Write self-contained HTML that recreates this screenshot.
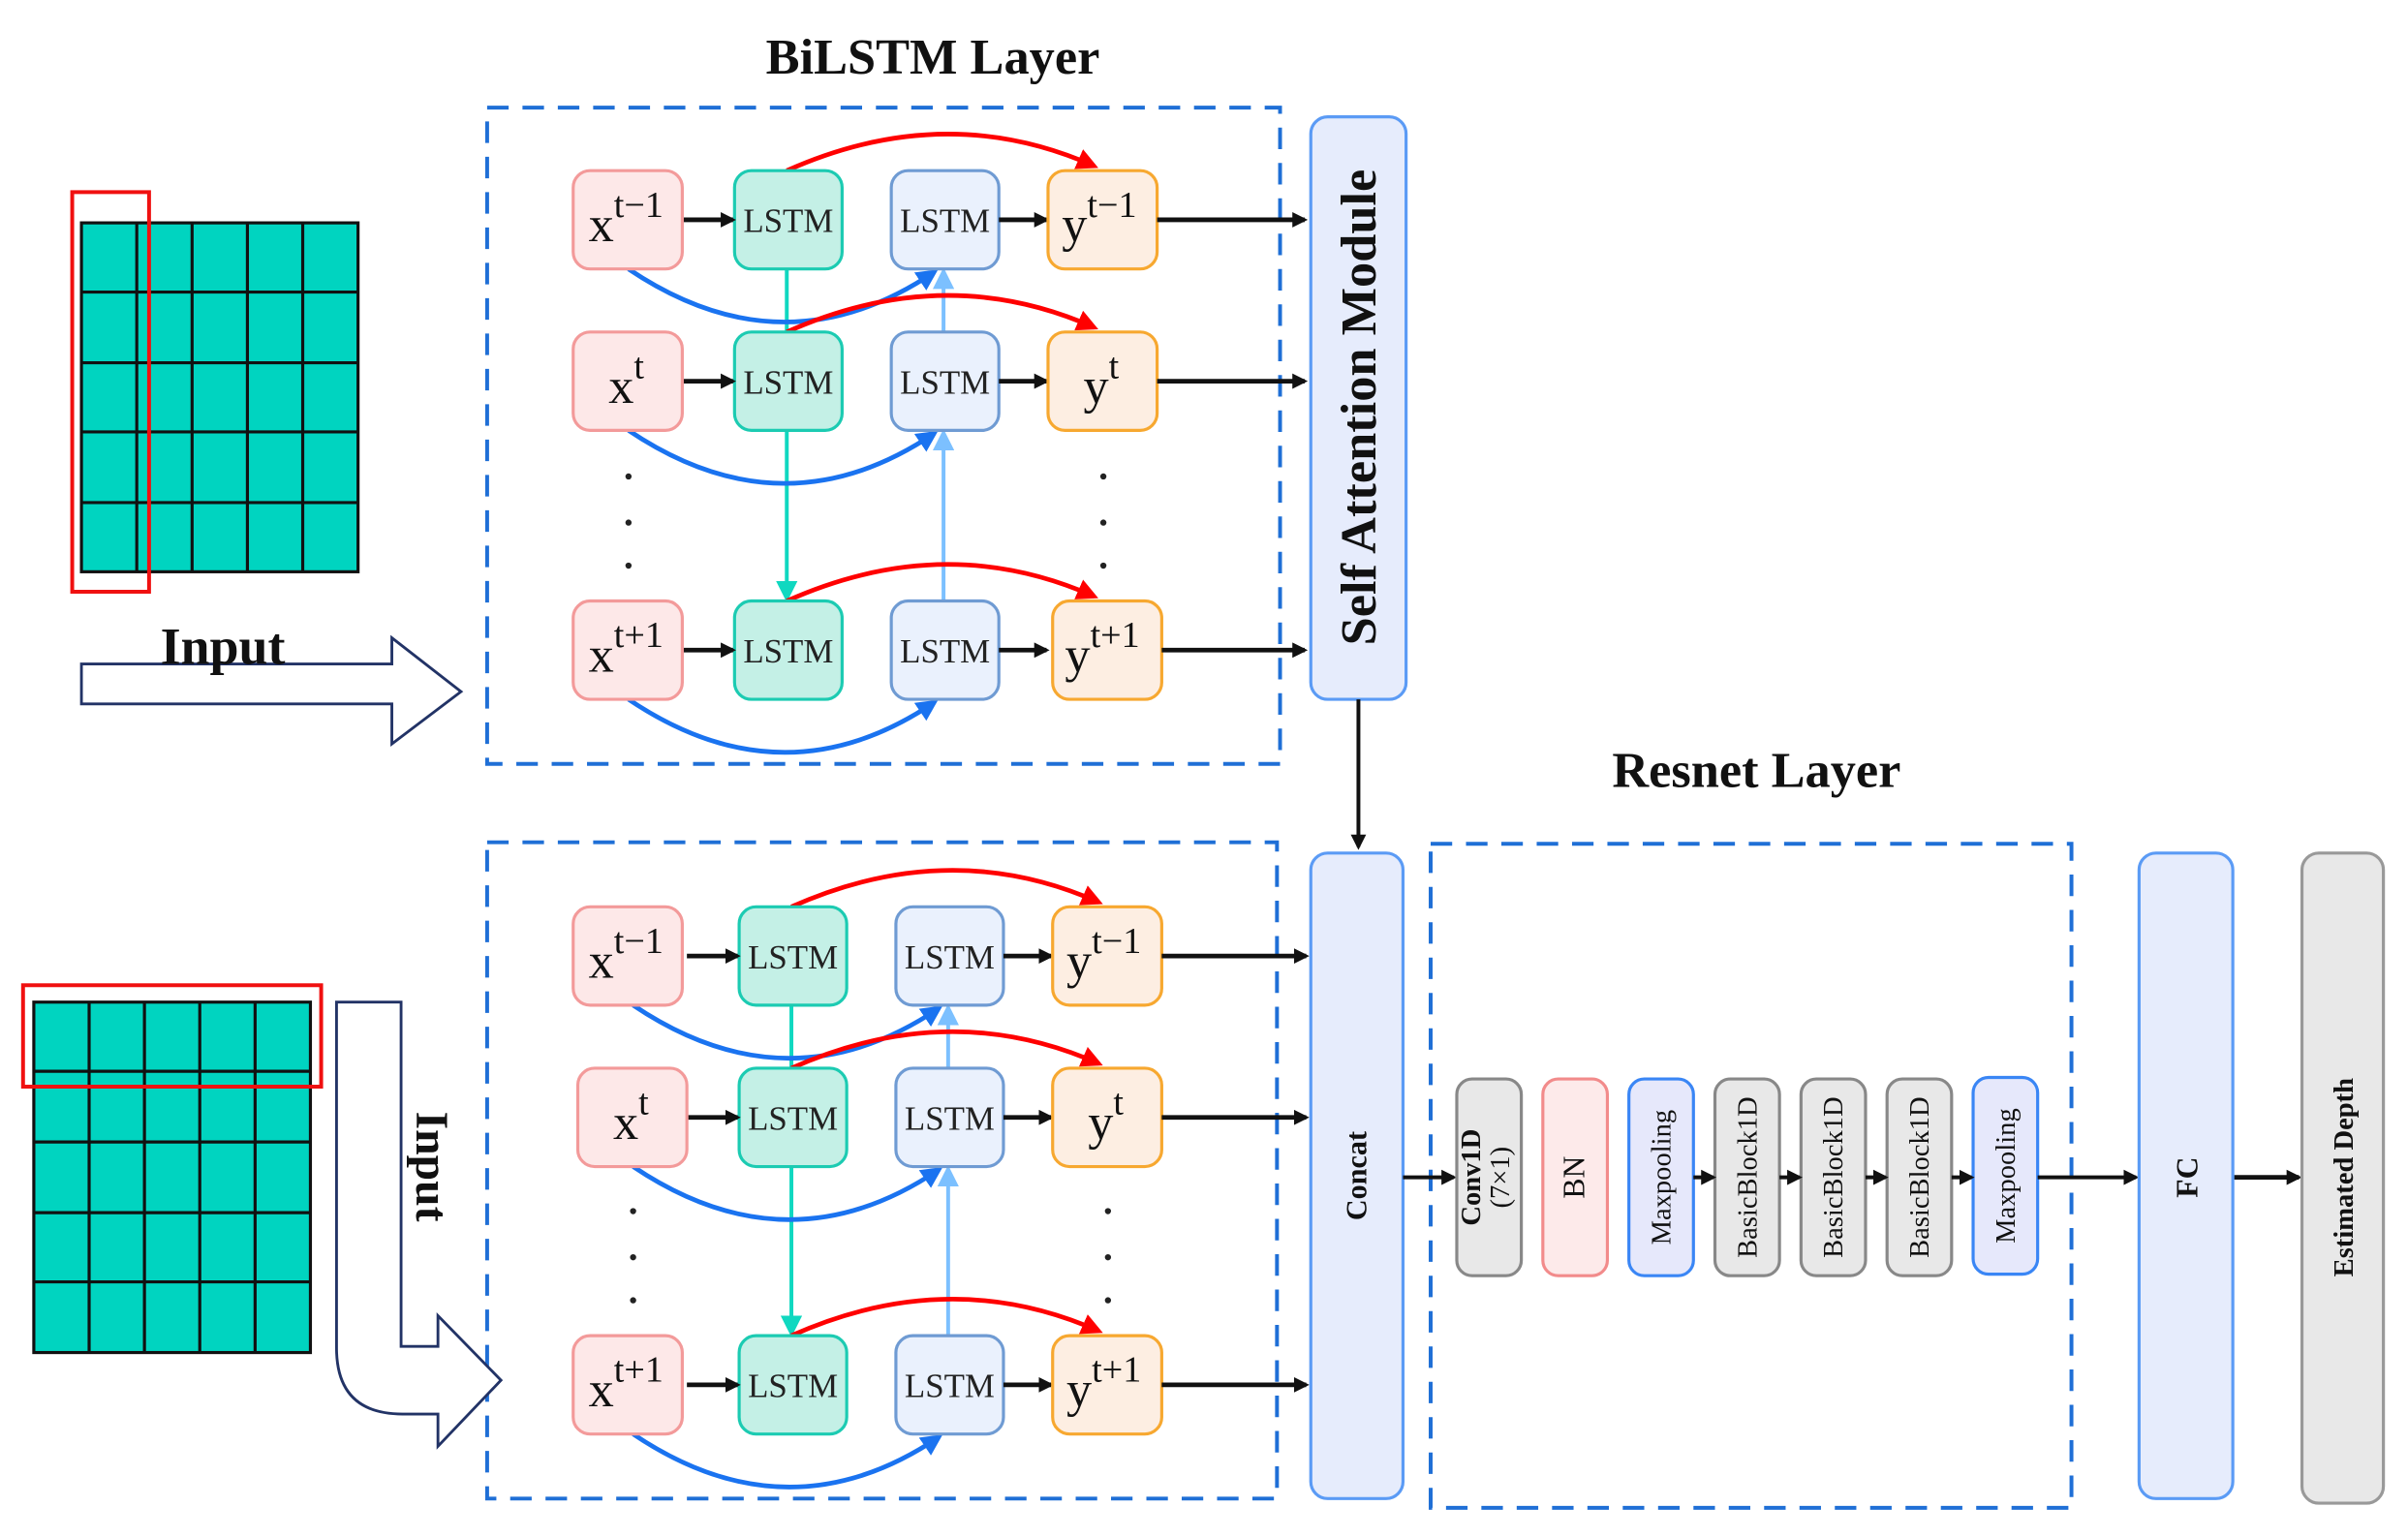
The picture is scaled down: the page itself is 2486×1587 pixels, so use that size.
<!DOCTYPE html>
<html><head><meta charset="utf-8"><style>
html,body{margin:0;padding:0;background:#fff;}
svg{display:block;}
text{font-family:"Liberation Serif",serif;}
</style></head><body>
<svg width="2486" height="1587" viewBox="0 0 1567 1000" preserveAspectRatio="none" xmlns="http://www.w3.org/2000/svg">
<defs>
<marker id="ab" markerWidth="10" markerHeight="10" refX="8" refY="5" orient="auto" markerUnits="userSpaceOnUse"><path d="M0,0 L10,5 L0,10 Z" fill="#111"/></marker>
<marker id="ar" markerWidth="14" markerHeight="14" refX="11" refY="7" orient="auto" markerUnits="userSpaceOnUse"><path d="M0,0 L14,7 L0,14 Z" fill="#f00"/></marker>
<marker id="abl" markerWidth="14" markerHeight="14" refX="11" refY="7" orient="auto" markerUnits="userSpaceOnUse"><path d="M0,0 L14,7 L0,14 Z" fill="#1a73f0"/></marker>
<marker id="at" markerWidth="14" markerHeight="14" refX="11" refY="7" orient="auto" markerUnits="userSpaceOnUse"><path d="M0,0 L14,7 L0,14 Z" fill="#10d8c0"/></marker>
<marker id="alb" markerWidth="14" markerHeight="14" refX="11" refY="7" orient="auto" markerUnits="userSpaceOnUse"><path d="M0,0 L14,7 L0,14 Z" fill="#7cc0ff"/></marker>
<g id="row">
  <path d="M512,-32 Q615,-78 712,-35" fill="none" stroke="#f00" stroke-width="3" marker-end="url(#ar)"/>
  <path d="M409,32 Q510,100 608,34" fill="none" stroke="#1a73f0" stroke-width="3" marker-end="url(#abl)"/>
  <rect x="478" y="-32" width="70" height="64" rx="11" fill="#c4f0e6" stroke="#1ccbb2" stroke-width="2"/>
  <rect x="580" y="-32" width="70" height="64" rx="11" fill="#eaf1fd" stroke="#6f9bd3" stroke-width="2"/>
  <text x="513" y="8" font-size="22" text-anchor="middle" fill="#222">LSTM</text>
  <text x="615" y="8" font-size="22" text-anchor="middle" fill="#222">LSTM</text>
  <line x1="444" y1="0" x2="477" y2="0" stroke="#111" stroke-width="3" marker-end="url(#ab)"/>
  <line x1="650" y1="0" x2="681" y2="0" stroke="#111" stroke-width="3" marker-end="url(#ab)"/>
</g>
</defs>

<text x="607" y="48" font-size="33" font-weight="bold" text-anchor="middle" fill="#111">BiLSTM Layer</text>
<text x="1143" y="512" font-size="33" font-weight="bold" text-anchor="middle" fill="#111">Resnet Layer</text>

<rect x="317" y="70" width="516" height="427" fill="none" stroke="#1f6fd6" stroke-width="2.5" stroke-dasharray="14,9"/>
<rect x="317" y="548" width="514" height="427" fill="none" stroke="#1f6fd6" stroke-width="2.5" stroke-dasharray="14,9"/>
<rect x="931" y="549" width="417" height="432" fill="none" stroke="#1f6fd6" stroke-width="2.5" stroke-dasharray="14,9"/>

<g stroke="#111" stroke-width="2">
<rect x="53" y="145" width="180" height="227" fill="#00d4c0"/>
<line x1="89" y1="145" x2="89" y2="372"/><line x1="125" y1="145" x2="125" y2="372"/><line x1="161" y1="145" x2="161" y2="372"/><line x1="197" y1="145" x2="197" y2="372"/>
<line x1="53" y1="190" x2="233" y2="190"/><line x1="53" y1="236" x2="233" y2="236"/><line x1="53" y1="281" x2="233" y2="281"/><line x1="53" y1="327" x2="233" y2="327"/>
</g>
<rect x="47" y="125" width="50" height="260" fill="none" stroke="#f01010" stroke-width="2.5"/>
<path d="M53,432 L255,432 L255,415 L300,450 L255,484 L255,458 L53,458 Z" fill="#fff" stroke="#223366" stroke-width="1.8"/>
<text x="145" y="432" font-size="34" font-weight="bold" text-anchor="middle" fill="#111">Input</text>

<g stroke="#111" stroke-width="2">
<rect x="22" y="652" width="180" height="228" fill="#00d4c0"/>
<line x1="58" y1="652" x2="58" y2="880"/><line x1="94" y1="652" x2="94" y2="880"/><line x1="130" y1="652" x2="130" y2="880"/><line x1="166" y1="652" x2="166" y2="880"/>
<line x1="22" y1="697" x2="202" y2="697"/><line x1="22" y1="743" x2="202" y2="743"/><line x1="22" y1="789" x2="202" y2="789"/><line x1="22" y1="834" x2="202" y2="834"/>
</g>
<rect x="15" y="641" width="194" height="66" fill="none" stroke="#f01010" stroke-width="2.5"/>
<path d="M219,652 L261,652 L261,876 L285,876 L285,856 L326,898 L285,941 L285,920 L262,920 Q219,920 219,877 Z" fill="#fff" stroke="#223366" stroke-width="1.8"/>
<text transform="translate(271,759) rotate(90)" font-size="30" font-weight="bold" text-anchor="middle" fill="#111">Input</text>

<line x1="512" y1="175" x2="512" y2="216" stroke="#10d8c0" stroke-width="2.5"/>
<line x1="512" y1="280" x2="512" y2="389" stroke="#10d8c0" stroke-width="2.5" marker-end="url(#at)"/>
<line x1="614" y1="391" x2="614" y2="282" stroke="#7cc0ff" stroke-width="2.5" marker-end="url(#alb)"/>
<line x1="614" y1="216" x2="614" y2="177" stroke="#7cc0ff" stroke-width="2.5" marker-end="url(#alb)"/>

<use href="#row" transform="translate(0,143)"/>
<use href="#row" transform="translate(0,248)"/>
<use href="#row" transform="translate(0,423)"/>

<g stroke-width="2">
<rect x="373" y="111" width="71" height="64" rx="11" fill="#fde8e8" stroke="#f39a9a"/>
<rect x="373" y="216" width="71" height="64" rx="11" fill="#fde8e8" stroke="#f39a9a"/>
<rect x="373" y="391" width="71" height="64" rx="11" fill="#fde8e8" stroke="#f39a9a"/>
<rect x="682" y="111" width="71" height="64" rx="11" fill="#fdeee2" stroke="#f7a830"/>
<rect x="682" y="216" width="71" height="64" rx="11" fill="#fdeee2" stroke="#f7a830"/>
<rect x="685" y="391" width="71" height="64" rx="11" fill="#fdeee2" stroke="#f7a830"/>
</g>
<g font-size="33" fill="#111">
<text x="383" y="157">x<tspan font-size="24" dy="-16">t−1</tspan></text>
<text x="396" y="262">x<tspan font-size="24" dy="-16">t</tspan></text>
<text x="383" y="437">x<tspan font-size="24" dy="-16">t+1</tspan></text>
<text x="691" y="157">y<tspan font-size="24" dy="-16">t−1</tspan></text>
<text x="705" y="262">y<tspan font-size="24" dy="-16">t</tspan></text>
<text x="693" y="437">y<tspan font-size="24" dy="-16">t+1</tspan></text>
</g>
<g stroke="#111" stroke-width="3">
<line x1="753" y1="143" x2="849" y2="143" marker-end="url(#ab)"/>
<line x1="753" y1="248" x2="849" y2="248" marker-end="url(#ab)"/>
<line x1="756" y1="423" x2="849" y2="423" marker-end="url(#ab)"/>
</g>
<g fill="#222">
<circle cx="409" cy="310" r="2"/><circle cx="409" cy="340" r="2"/><circle cx="409" cy="368" r="2"/>
<circle cx="718" cy="310" r="2"/><circle cx="718" cy="340" r="2"/><circle cx="718" cy="368" r="2"/>
</g>

<line x1="515" y1="654" x2="515" y2="695" stroke="#10d8c0" stroke-width="2.5"/>
<line x1="515" y1="759" x2="515" y2="867" stroke="#10d8c0" stroke-width="2.5" marker-end="url(#at)"/>
<line x1="617" y1="869" x2="617" y2="761" stroke="#7cc0ff" stroke-width="2.5" marker-end="url(#alb)"/>
<line x1="617" y1="695" x2="617" y2="656" stroke="#7cc0ff" stroke-width="2.5" marker-end="url(#alb)"/>

<use href="#row" transform="translate(3,622)"/>
<use href="#row" transform="translate(3,727)"/>
<use href="#row" transform="translate(3,901)"/>

<g stroke-width="2">
<rect x="373" y="590" width="71" height="64" rx="11" fill="#fde8e8" stroke="#f39a9a"/>
<rect x="376" y="695" width="71" height="64" rx="11" fill="#fde8e8" stroke="#f39a9a"/>
<rect x="373" y="869" width="71" height="64" rx="11" fill="#fde8e8" stroke="#f39a9a"/>
<rect x="685" y="590" width="71" height="64" rx="11" fill="#fdeee2" stroke="#f7a830"/>
<rect x="685" y="695" width="71" height="64" rx="11" fill="#fdeee2" stroke="#f7a830"/>
<rect x="685" y="869" width="71" height="64" rx="11" fill="#fdeee2" stroke="#f7a830"/>
</g>
<g font-size="33" fill="#111">
<text x="383" y="636">x<tspan font-size="24" dy="-16">t−1</tspan></text>
<text x="399" y="741">x<tspan font-size="24" dy="-16">t</tspan></text>
<text x="383" y="915">x<tspan font-size="24" dy="-16">t+1</tspan></text>
<text x="694" y="636">y<tspan font-size="24" dy="-16">t−1</tspan></text>
<text x="708" y="741">y<tspan font-size="24" dy="-16">t</tspan></text>
<text x="694" y="915">y<tspan font-size="24" dy="-16">t+1</tspan></text>
</g>
<g stroke="#111" stroke-width="3">
<line x1="756" y1="622" x2="850" y2="622" marker-end="url(#ab)"/>
<line x1="756" y1="727" x2="850" y2="727" marker-end="url(#ab)"/>
<line x1="756" y1="901" x2="850" y2="901" marker-end="url(#ab)"/>
</g>
<g fill="#222">
<circle cx="412" cy="788" r="2"/><circle cx="412" cy="818" r="2"/><circle cx="412" cy="846" r="2"/>
<circle cx="721" cy="788" r="2"/><circle cx="721" cy="818" r="2"/><circle cx="721" cy="846" r="2"/>
</g>

<rect x="853" y="76" width="62" height="379" rx="11" fill="#e6ecfc" stroke="#5b9bf5" stroke-width="2"/>
<text transform="translate(895,265) rotate(-90)" font-size="33" font-weight="bold" text-anchor="middle" fill="#111">Self Attention Module</text>
<line x1="884" y1="455" x2="884" y2="551" stroke="#111" stroke-width="2.5" marker-end="url(#ab)"/>
<rect x="853" y="555" width="60" height="420" rx="11" fill="#e6ecfc" stroke="#5b9bf5" stroke-width="2"/>
<text transform="translate(889,765) rotate(-90)" font-size="19" font-weight="bold" text-anchor="middle" fill="#111">Concat</text>

<line x1="913" y1="766" x2="946" y2="766" stroke="#111" stroke-width="2.5" marker-end="url(#ab)"/>
<g stroke-width="2">
<rect x="948" y="702" width="42" height="128" rx="10" fill="#e8e8e8" stroke="#888"/>
<rect x="1004" y="702" width="42" height="128" rx="10" fill="#fdeaea" stroke="#f28b8b"/>
<rect x="1060" y="702" width="42" height="128" rx="10" fill="#e6e8fb" stroke="#3a86f5"/>
<rect x="1116" y="702" width="42" height="128" rx="10" fill="#e8e8e8" stroke="#888"/>
<rect x="1172" y="702" width="42" height="128" rx="10" fill="#e8e8e8" stroke="#888"/>
<rect x="1228" y="702" width="42" height="128" rx="10" fill="#e8e8e8" stroke="#888"/>
<rect x="1284" y="701" width="42" height="128" rx="10" fill="#e6e8fb" stroke="#3a86f5"/>
</g>
<g fill="#111" font-size="18" text-anchor="middle">
<text transform="translate(963,766) rotate(-90)" font-weight="bold">Conv1D</text>
<text transform="translate(982,766) rotate(-90)">(7×1)</text>
<text transform="translate(1031,766) rotate(-90)" font-size="20">BN</text>
<text transform="translate(1087,766) rotate(-90)">Maxpooling</text>
<text transform="translate(1143,766) rotate(-90)">BasicBlock1D</text>
<text transform="translate(1199,766) rotate(-90)">BasicBlock1D</text>
<text transform="translate(1255,766) rotate(-90)">BasicBlock1D</text>
<text transform="translate(1311,765) rotate(-90)">Maxpooling</text>
</g>
<g stroke="#111" stroke-width="2.5">
<line x1="1102" y1="766" x2="1115" y2="766" marker-end="url(#ab)"/>
<line x1="1158" y1="766" x2="1171" y2="766" marker-end="url(#ab)"/>
<line x1="1214" y1="766" x2="1227" y2="766" marker-end="url(#ab)"/>
<line x1="1270" y1="766" x2="1283" y2="766" marker-end="url(#ab)"/>
<line x1="1326" y1="766" x2="1390" y2="766" marker-end="url(#ab)"/>
<line x1="1453" y1="766" x2="1496" y2="766" stroke-width="3" marker-end="url(#ab)"/>
</g>
<rect x="1392" y="555" width="61" height="420" rx="11" fill="#e6ecfc" stroke="#5b9bf5" stroke-width="2"/>
<text transform="translate(1430,766) rotate(-90)" font-size="20" font-weight="bold" text-anchor="middle" fill="#111">FC</text>
<rect x="1498" y="555" width="53" height="423" rx="11" fill="#e8e8e8" stroke="#999" stroke-width="2"/>
<text transform="translate(1531,766) rotate(-90)" font-size="18" font-weight="bold" text-anchor="middle" fill="#111">Estimated Depth</text>
</svg>
</body></html>
